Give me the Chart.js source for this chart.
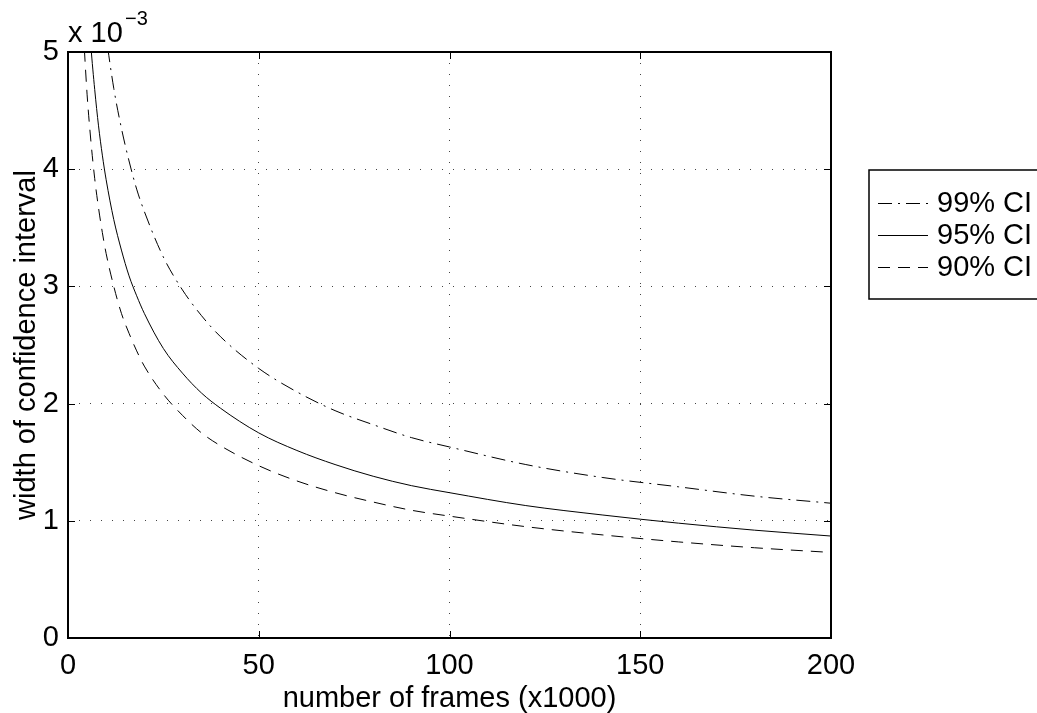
<!DOCTYPE html>
<html>
<head>
<meta charset="utf-8">
<script src="https://cdn.jsdelivr.net/npm/chart.js@4/dist/chart.umd.min.js"></script>
<style>
  html, body { margin: 0; padding: 0; background: #fff; }
  #wrap { width: 1037px; height: 713px; position: relative; }
</style>
</head>
<body>
<div id="wrap"><canvas id="ci-chart"></canvas></div>
<script>
// number of frames (x1000)
const frames = [4, 5, 6, 7, 8, 9, 10, 12, 14, 16, 18, 20, 25, 30, 35, 40, 50, 60, 70, 80, 90, 100, 120, 140, 160, 180, 200];

// width of confidence interval (x 10^-3)
const ci99 = [8.13, 7.27, 6.64, 6.15, 5.75, 5.42, 5.14, 4.69, 4.35, 4.07, 3.83, 3.64, 3.25, 2.97, 2.75, 2.57, 2.30, 2.10, 1.94, 1.82, 1.71, 1.63, 1.48, 1.37, 1.29, 1.21, 1.15];
const ci95 = [6.19, 5.53, 5.05, 4.68, 4.37, 4.12, 3.91, 3.57, 3.31, 3.09, 2.92, 2.77, 2.47, 2.26, 2.09, 1.96, 1.75, 1.60, 1.48, 1.38, 1.30, 1.24, 1.13, 1.05, 0.98, 0.92, 0.87];
const ci90 = [5.19, 4.64, 4.24, 3.92, 3.67, 3.46, 3.28, 3.00, 2.77, 2.60, 2.45, 2.32, 2.08, 1.90, 1.75, 1.64, 1.47, 1.34, 1.24, 1.16, 1.09, 1.04, 0.95, 0.88, 0.82, 0.77, 0.73];

const seriesLabels = ["99% CI", "95% CI", "90% CI"];
const xTicks = [0, 50, 100, 150, 200];
const yTicks = [0, 1, 2, 3, 4, 5];

const FONT = "'Liberation Sans', Arial, Helvetica, sans-serif";
const FSIZE = 29;

function toPoints(values) {
  return frames.map(function (f, i) {
    return { x: f, y: values[i] };
  });
}

function line(ctx, x1, y1, x2, y2) {
  ctx.beginPath();
  ctx.moveTo(x1, y1);
  ctx.lineTo(x2, y2);
  ctx.stroke();
}

// axes box, inward ticks, exponent label and the legend box
const matlabFrame = {
  id: "matlabFrame",
  afterDraw(chart) {
    const ctx = chart.ctx;
    const a = chart.chartArea;
    const xs = chart.scales.x;
    const ys = chart.scales.y;

    ctx.save();
    ctx.setLineDash([]);
    ctx.strokeStyle = "#000";
    ctx.lineWidth = 1;

    xTicks.forEach(function (v) {
      const px = Math.round(xs.getPixelForValue(v)) + 0.5;
      line(ctx, px, a.bottom, px, a.bottom - 7);
      line(ctx, px, a.top, px, a.top + 7);
    });
    yTicks.forEach(function (v) {
      const py = Math.round(ys.getPixelForValue(v)) + 0.5;
      line(ctx, a.left, py, a.left + 7, py);
      line(ctx, a.right, py, a.right - 7, py);
    });

    ctx.lineWidth = 2;
    ctx.strokeRect(a.left, a.top, a.right - a.left, a.bottom - a.top);

    // exponent
    ctx.fillStyle = "#000";
    ctx.textBaseline = "alphabetic";
    ctx.textAlign = "left";
    ctx.font = FSIZE + "px " + FONT;
    ctx.fillText("x 10", a.left, 42);
    ctx.font = "20px " + FONT;
    ctx.fillText("\u22123", a.left + 57, 25);

    // legend
    const lx = 869, ly = 170, lw = 180, lh = 129;
    ctx.fillStyle = "#fff";
    ctx.fillRect(lx, ly, lw, lh);
    ctx.lineWidth = 1.5;
    ctx.strokeRect(lx, ly, lw, lh);

    const rows = [203, 235, 267];
    chart.data.datasets.forEach(function (ds, i) {
      ctx.strokeStyle = ds.borderColor;
      ctx.lineWidth = ds.borderWidth;
      ctx.setLineDash(ds.borderDash || []);
      line(ctx, 878, rows[i] + 0.5, 928, rows[i] + 0.5);
      ctx.setLineDash([]);
      ctx.fillStyle = "#000";
      ctx.font = FSIZE + "px " + FONT;
      ctx.textBaseline = "middle";
      ctx.fillText(ds.label, 937, rows[i] + 1);
    });

    ctx.restore();
  }
};

const ctx = document.getElementById("ci-chart");

new Chart(ctx, {
  type: "line",
  data: {
    datasets: [
      {
        label: seriesLabels[0],
        data: toPoints(ci99),
        borderColor: "#000",
        borderWidth: 1,
        borderDash: [14, 6, 2, 6]
      },
      {
        label: seriesLabels[1],
        data: toPoints(ci95),
        borderColor: "#000",
        borderWidth: 1,
        borderDash: []
      },
      {
        label: seriesLabels[2],
        data: toPoints(ci90),
        borderColor: "#000",
        borderWidth: 1,
        borderDash: [12, 8]
      }
    ]
  },
  options: {
    responsive: true,
    maintainAspectRatio: false,
    animation: false,
    events: [],
    layout: {
      padding: { top: 52, right: 206, left: 0, bottom: 0 }
    },
    elements: {
      point: { radius: 0 },
      line: { cubicInterpolationMode: "monotone", fill: false }
    },
    plugins: {
      legend: { display: false },
      tooltip: { enabled: false }
    },
    scales: {
      x: {
        type: "linear",
        min: 0,
        max: 200,
        afterFit: function (scale) { scale.height = 75; },
        afterBuildTicks: function (scale) {
          scale.ticks = xTicks.map(function (v) { return { value: v }; });
        },
        ticks: {
          color: "#000",
          font: { family: FONT, size: FSIZE },
          padding: 11,
          maxRotation: 0
        },
        grid: {
          color: "#444",
          lineWidth: 1,
          drawTicks: false
        },
        border: { display: false, dash: [1, 10] },
        title: {
          display: true,
          text: "number of frames (x1000)",
          color: "#000",
          font: { family: FONT, size: FSIZE },
          padding: { top: 0, bottom: -3 }
        }
      },
      y: {
        type: "linear",
        min: 0,
        max: 5,
        afterFit: function (scale) { scale.width = 68; },
        afterBuildTicks: function (scale) {
          scale.ticks = yTicks.map(function (v) { return { value: v }; });
        },
        ticks: {
          color: "#000",
          font: { family: FONT, size: FSIZE },
          padding: 9
        },
        grid: {
          color: "#444",
          lineWidth: 1,
          drawTicks: false
        },
        border: { display: false, dash: [1, 10] },
        title: {
          display: true,
          text: "width of confidence interval",
          color: "#000",
          font: { family: FONT, size: FSIZE },
          padding: { top: 10, bottom: 0 }
        }
      }
    }
  },
  plugins: [matlabFrame]
});
</script>
</body>
</html>
